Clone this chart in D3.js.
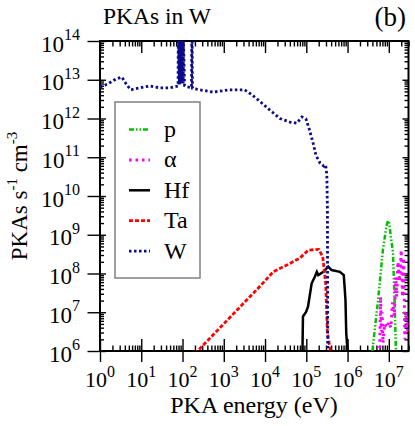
<!DOCTYPE html>
<html>
<head>
<meta charset="utf-8">
<script src="https://cdn.jsdelivr.net/npm/d3@7"></script>
<style>
body { margin: 0; background: #fff; }
svg { display: block; }
text { font-family: "Liberation Serif", "Times New Roman", serif; fill: #000; }
</style>
</head>
<body>
<svg id="chart" width="415" height="426"></svg>
<script>
// PKA energy (eV) and rate (PKAs s^-1 cm^-3)
var pE = [4.0e6, 5.5e6, 7.2e6, 8.7e6, 9.5e6, 1.02e7, 1.12e7, 1.26e7, 1.38e7, 1.48e7, 1.55e7];
var pF = [1.0e6, 2.1e7, 4.1e8, 1.6e9, 2.3e9, 2.0e9, 8.9e8, 3.5e8, 2.0e7, 1.26e6, 5.0e5];

var aE = [6.0e6, 6.3e6, 6.6e6, 6.9e6, 7.2e6, 7.9e6, 8.9e6, 1.0e7, 1.12e7, 1.23e7, 1.35e7,
          1.48e7, 1.55e7, 1.66e7, 1.82e7, 2.0e7, 2.14e7, 2.3e7, 2.45e7, 2.63e7, 2.9e7];
var aF = [8e5, 2.5e7, 3.2e6, 1e7, 1.6e6, 5e6, 4e6, 5.6e6, 4e6, 1.8e7, 8e6,
          8e7, 2.5e7, 2e8, 6.3e7, 4e8, 2.5e7, 2.5e8, 2e6, 1e7, 3.2e6];

var hfE = [8.0e4, 8.1e4, 8.3e4, 9.8e4, 1.1e5, 1.35e5, 1.6e5, 1.8e5, 1.95e5, 2.6e5, 3.4e5,
           4.1e5, 6.5e5, 8.1e5, 8.9e5, 9.3e5, 1.0e6, 1.02e6];
var hfF = [6e5, 1.2e6, 7.8e6, 1.0e7, 1.4e7, 5.6e7, 8.1e7, 1.1e8, 9.1e7, 1.1e8, 1.5e8,
           1.23e8, 1.1e8, 9.1e7, 2.1e7, 2.9e6, 1.0e6, 3e5];

var taE = [200, 8000, 1.6e4, 3.2e4, 7.0e4, 1.12e5, 2.0e5, 2.5e5, 2.95e5, 3.25e5, 3.7e5, 4.0e5, 6.0e5];
var taF = [8.5e5, 5.0e7, 1.12e8, 1.6e8, 2.5e8, 4.0e8, 4.2e8, 2.7e8, 5.6e7, 2.9e6, 1.3e6, 8e5, 3e5];

var wE = [1, 1.55, 2.45, 3.4, 4.5, 5.6, 9.3, 16, 28, 49, 78,
          79, 84, 84.5, 90, 90.5, 97, 97.5, 104, 105, 112,
          125, 150, 165, 168, 171, 174, 200, 550, 1400, 3200, 4800, 7400,
          1.3e4, 2.3e4, 4.0e4, 5.9e4, 7.8e4, 9.8e4, 1.2e5, 1.5e5, 1.7e5, 2.15e5,
          2.65e5, 2.95e5, 3.15e5, 3.25e5, 3.3e5, 3.4e5];
var wF = [6.5e12, 7.8e12, 1.05e13, 1.17e13, 7.2e12, 5.5e12, 6.2e12, 6.9e12, 6.2e12, 6.2e12, 6.9e12,
          1.3e14, 7.5e12, 1.3e14, 8e12, 1.3e14, 8.5e12, 1.3e14, 8e12, 1.3e14, 7e12,
          6.6e12, 6.4e12, 6.3e12, 1.3e14, 1.3e14, 6.0e12, 5.8e12, 4.8e12, 5.5e12, 5.5e12, 4.1e12, 2.8e12,
          1.66e12, 1.0e12, 8.1e11, 7.6e11, 1.1e12, 9.8e11, 5.0e11, 2.1e11, 1.15e11, 7.1e10,
          5.9e10, 6.3e10, 3.5e10, 4.4e9, 1.2e6, 1e5];

var seriesNames = ["p", "\u03b1", "Hf", "Ta", "W"];
var xExps = [0, 1, 2, 3, 4, 5, 6, 7];
var yExps = [6, 7, 8, 9, 10, 11, 12, 13, 14];

var svg = d3.select("#chart");

var x = d3.scaleLog().domain([1, 3e7]).range([100, 408.5]);
var y = d3.scaleLog().domain([1e6, 1e14]).range([351, 41]);

var xMajor = xExps.map(function(e) { return Math.pow(10, e); });
var yMajor = yExps.map(function(e) { return Math.pow(10, e); });
var isPow = function(v) { return Math.abs(Math.log10(v) - Math.round(Math.log10(v))) < 1e-9; };
var xMinor = x.ticks().filter(function(v) { return !isPow(v); });
var yMinor = y.ticks().filter(function(v) { return !isPow(v); });

function addAxis(axis, tx, ty) {
    var g = svg.append("g").attr("transform", "translate(" + tx + "," + ty + ")").call(axis);
    g.select(".domain").remove();
    g.selectAll(".tick text").remove();
    g.selectAll(".tick line").attr("stroke", "#000").attr("stroke-width", 1.4);
    return g;
}

// bottom
addAxis(d3.axisBottom(x).tickValues(xMajor).tickSize(11), 0, 351);
addAxis(d3.axisBottom(x).tickValues(xMajor).tickSize(-12), 0, 351);
addAxis(d3.axisBottom(x).tickValues(xMinor).tickSize(-5.5), 0, 351);
// top
addAxis(d3.axisTop(x).tickValues(xMajor).tickSize(-12), 0, 41);
addAxis(d3.axisTop(x).tickValues(xMinor).tickSize(-5.5), 0, 41);
// left
addAxis(d3.axisLeft(y).tickValues(yMajor).tickSize(12.5), 100, 0);
addAxis(d3.axisLeft(y).tickValues(yMajor).tickSize(-6), 100, 0);
addAxis(d3.axisLeft(y).tickValues(yMinor).tickSize(-4), 100, 0);
// right
addAxis(d3.axisRight(y).tickValues(yMajor).tickSize(-6), 408.5, 0);
addAxis(d3.axisRight(y).tickValues(yMinor).tickSize(-4), 408.5, 0);

// frame
svg.append("rect")
    .attr("x", 100).attr("y", 41)
    .attr("width", 308.5).attr("height", 310)
    .attr("fill", "none").attr("stroke", "#000").attr("stroke-width", 2);

// tick labels
svg.selectAll(".xlab").data(xExps).enter().append("text")
    .attr("class", "xlab")
    .attr("x", function(e) { return x(Math.pow(10, e)); })
    .attr("y", 387)
    .attr("text-anchor", "middle")
    .attr("font-size", 22)
    .each(function(e) {
        var t = d3.select(this);
        t.append("tspan").text("10");
        t.append("tspan").attr("dy", -10).attr("font-size", 16).text(e);
    });

svg.selectAll(".ylab").data(yExps).enter().append("text")
    .attr("class", "ylab")
    .attr("x", 80)
    .attr("y", function(e) { return y(Math.pow(10, e)) + 10.5; })
    .attr("text-anchor", "end")
    .attr("font-size", 23)
    .each(function(e) {
        var t = d3.select(this);
        t.append("tspan").text("10");
        t.append("tspan").attr("dy", -11.5).attr("font-size", 16).text(e);
    });

// axis titles
svg.append("text")
    .attr("x", 254).attr("y", 413)
    .attr("text-anchor", "middle")
    .attr("font-size", 24)
    .text("PKA energy (eV)");

var yt = svg.append("text")
    .attr("transform", "translate(27,196) rotate(-90)")
    .attr("text-anchor", "middle")
    .attr("font-size", 23);
yt.append("tspan").text("PKAs s");
yt.append("tspan").attr("dy", -10).attr("font-size", 15).text("-1");
yt.append("tspan").attr("dy", 10).text(" cm");
yt.append("tspan").attr("dy", -10).attr("font-size", 15).text("-3");

svg.append("text").attr("x", 103).attr("y", 24).attr("font-size", 23.5).text("PKAs in W");
svg.append("text").attr("x", 406).attr("y", 26).attr("text-anchor", "end").attr("font-size", 27).text("(b)");

// data
svg.append("clipPath").attr("id", "plotclip")
    .append("rect").attr("x", 100).attr("y", 41).attr("width", 308.5).attr("height", 310);

var styles = [
    { color: "#00c000", dash: "5,2,1.5,2,1.5,2", width: 2.5 },
    { color: "#ff00ff", dash: "2.5,4", width: 3 },
    { color: "#000000", dash: null, width: 2.5 },
    { color: "#ff0000", dash: "4,2", width: 2.8 },
    { color: "#0b0b8b", dash: "2.5,2.5", width: 2.8 }
];
var allE = [pE, aE, hfE, taE, wE];
var allF = [pF, aF, hfF, taF, wF];

var line = d3.line()
    .x(function(d) { return x(d[0]); })
    .y(function(d) { return y(d[1]); });

var plot = svg.append("g").attr("clip-path", "url(#plotclip)");
seriesNames.forEach(function(name, i) {
    plot.append("path")
        .datum(d3.zip(allE[i], allF[i]))
        .attr("d", line)
        .attr("fill", "none")
        .attr("stroke", styles[i].color)
        .attr("stroke-width", styles[i].width)
        .attr("stroke-dasharray", styles[i].dash);
});

// legend
var leg = svg.append("g");
leg.append("rect")
    .attr("x", 115).attr("y", 102).attr("width", 85).attr("height", 176)
    .attr("fill", "#fff").attr("stroke", "#808080").attr("stroke-width", 1.5);
seriesNames.forEach(function(name, i) {
    var ly = 129.5 + i * 30.4;
    leg.append("line")
        .attr("x1", 129).attr("x2", 150).attr("y1", ly).attr("y2", ly)
        .attr("stroke", styles[i].color)
        .attr("stroke-width", styles[i].width)
        .attr("stroke-dasharray", styles[i].dash);
    leg.append("text")
        .attr("x", 164).attr("y", ly + 7.5)
        .attr("font-size", 24)
        .text(name);
});
</script>
</body>
</html>
